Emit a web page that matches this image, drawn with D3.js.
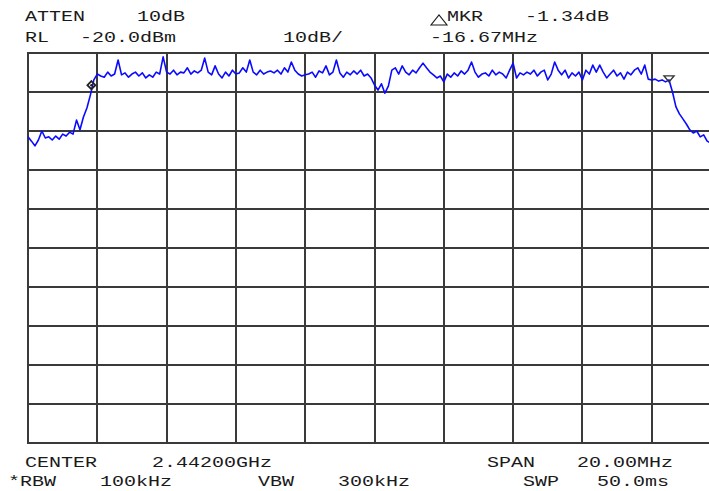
<!DOCTYPE html>
<html>
<head>
<meta charset="utf-8">
<script src="https://cdn.jsdelivr.net/npm/d3@7"></script>
<style>
  html, body { margin: 0; padding: 0; background: #fff; }
  svg { display: block; }
</style>
</head>
<body>
<svg id="chart" width="709" height="491"></svg>
<script>
// analyzer settings
const centerMHz = 2442;
const spanMHz = 20;
const refLevelDbm = -20;
const dbPerDiv = 10;
const divisions = 10;

// trace, 201 points across the span (dBm)
const traceDbm = [
  -41.5, -42.6, -43.8, -42.3, -40.0, -41.8, -41.5, -42.3, -41.3, -42.1,
  -40.8, -41.3, -40.3, -40.8, -37.2, -39.7, -36.4, -34.1, -30.8, -26.9,
  -25.4, -25.9, -26.2, -24.9, -25.9, -25.4, -21.8, -25.6, -25.1, -26.2,
  -25.4, -24.9, -25.9, -25.1, -26.4, -25.6, -26.2, -24.9, -25.4, -21.0,
  -24.9, -25.4, -24.4, -25.6, -24.9, -25.1, -23.8, -25.4, -24.6, -25.1,
  -24.4, -21.3, -24.9, -25.6, -23.3, -25.4, -26.4, -24.9, -25.9, -24.4,
  -25.4, -25.1, -23.8, -24.9, -21.8, -24.9, -25.6, -24.4, -25.4, -24.9,
  -24.6, -25.1, -24.4, -25.4, -23.8, -24.9, -22.3, -24.4, -25.4, -25.9,
  -25.6, -25.4, -24.9, -26.2, -24.6, -25.1, -23.3, -25.6, -24.9, -21.8,
  -25.1, -26.2, -24.9, -25.6, -24.6, -25.4, -24.4, -25.9, -25.4, -26.4,
  -28.2, -29.5, -27.9, -30.3, -28.5, -24.4, -23.8, -25.4, -23.3, -24.9,
  -25.6, -24.4, -25.1, -23.8, -22.6, -23.8, -24.9, -25.6, -26.4, -25.9,
  -27.4, -25.4, -26.2, -25.1, -25.9, -24.6, -25.4, -24.4, -22.3, -24.9,
  -26.2, -25.4, -25.1, -25.9, -24.4, -25.6, -24.9, -25.4, -26.4, -24.4,
  -22.6, -26.4, -25.1, -25.6, -24.9, -25.4, -24.4, -25.9, -24.9, -24.4,
  -26.9, -25.4, -22.3, -24.4, -25.6, -24.4, -26.4, -25.1, -25.9, -24.9,
  -26.9, -24.4, -25.4, -23.1, -24.9, -23.1, -24.9, -26.4, -25.4, -24.4,
  -25.9, -25.1, -26.7, -24.9, -25.6, -24.4, -23.8, -25.4, -23.1, -26.7,
  -26.9, -26.7, -27.2, -26.9, -27.4, -26.9, -30.0, -33.8, -35.6, -36.9,
  -38.2, -39.7, -40.5, -40.0, -41.5, -41.0, -42.6, -43.1, -42.3, -43.3,
  -42.8
];

// markers
const refMarkerMHz = 2450.5;
const deltaMarkerMHz = -16.67;
const deltaMarkerDb = -1.34;

// annotation texts
const headerLabels = ["ATTEN", "10dB", "MKR", "-1.34dB", "RL", "-20.0dBm", "10dB/", "-16.67MHz"];
const footerLabels = ["CENTER", "2.44200GHz", "SPAN", "20.00MHz", "*RBW", "100kHz", "VBW", "300kHz", "SWP", "50.0ms"];

const svg = d3.select('#chart');

const plot = {left: 28, top: 53, width: 693, height: 390};

const x = d3.scaleLinear()
    .domain([centerMHz - spanMHz / 2, centerMHz + spanMHz / 2])
    .range([plot.left, plot.left + plot.width]);

const y = d3.scaleLinear()
    .domain([refLevelDbm - dbPerDiv * divisions, refLevelDbm])
    .range([plot.top + plot.height, plot.top]);

const step = spanMHz / (traceDbm.length - 1);
const points = traceDbm.map((v, i) => ({f: x.domain()[0] + i * step, v}));

// grid
const gridColor = '#3a3a3a';
const divs = d3.range(0, divisions + 1);

svg.append('g')
  .selectAll('line')
  .data(divs)
  .join('line')
    .attr('x1', d => Math.round(x(x.domain()[0] + d * spanMHz / divisions)))
    .attr('x2', d => Math.round(x(x.domain()[0] + d * spanMHz / divisions)))
    .attr('y1', plot.top)
    .attr('y2', plot.top + plot.height)
    .attr('stroke', gridColor)
    .attr('stroke-width', 2);

svg.append('g')
  .selectAll('line')
  .data(divs)
  .join('line')
    .attr('x1', plot.left - 1)
    .attr('x2', plot.left + plot.width)
    .attr('y1', d => Math.round(y(refLevelDbm - d * dbPerDiv)))
    .attr('y2', d => Math.round(y(refLevelDbm - d * dbPerDiv)))
    .attr('stroke', gridColor)
    .attr('stroke-width', 2);

// trace
const line = d3.line()
    .x(d => x(d.f))
    .y(d => y(d.v));

svg.append('path')
    .datum(points)
    .attr('d', line)
    .attr('fill', 'none')
    .attr('stroke', '#0a0aff')
    .attr('stroke-width', 1.6)
    .attr('stroke-linejoin', 'round');

// reference marker (triangle above the trace)
const refIdx = d3.bisector(d => d.f).center(points, refMarkerMHz);
const refDbm = points[refIdx].v;
const rx = x(refMarkerMHz), ry = y(refDbm);
svg.append('path')
    .attr('d', `M${rx - 5},${ry - 4}L${rx + 5},${ry - 4}L${rx},${ry + 2}Z`)
    .attr('fill', 'none')
    .attr('stroke', '#333')
    .attr('stroke-width', 1.4);

// delta marker (diamond)
const dx = x(refMarkerMHz + deltaMarkerMHz), dy = y(refDbm + deltaMarkerDb);
svg.append('path')
    .attr('d', `M${dx},${dy - 4}L${dx + 4},${dy}L${dx},${dy + 4}L${dx - 4},${dy}Z`)
    .attr('fill', 'none')
    .attr('stroke', '#222')
    .attr('stroke-width', 1.8);
svg.append('circle')
    .attr('cx', dx).attr('cy', dy).attr('r', 1.2)
    .attr('fill', '#222');

// text
const headerPos = [[25, 21], [137, 21], [447, 21], [525, 21], [25, 42], [80, 42], [283, 42], [430, 42]];
const footerPos = [[25, 467], [152, 467], [487, 467], [577, 467], [8, 486], [100, 486], [258, 486], [338, 486], [523, 486], [597, 486]];

const texts = headerLabels.map((t, i) => ({t, p: headerPos[i]}))
  .concat(footerLabels.map((t, i) => ({t, p: footerPos[i]})));

svg.append('g')
  .selectAll('text')
  .data(texts)
  .join('text')
    .attr('transform', d => `translate(${d.p[0]},${d.p[1]}) scale(1.43,1)`)
    .attr('font-family', '"Liberation Mono", "DejaVu Sans Mono", monospace')
    .attr('font-size', 14)
    .attr('fill', '#1a1a1a')
    .text(d => d.t);

// delta symbol before MKR
svg.append('path')
    .attr('d', 'M431,25L447,25L439,15Z')
    .attr('fill', 'none')
    .attr('stroke', '#1a1a1a')
    .attr('stroke-width', 1.1);
</script>
</body>
</html>
